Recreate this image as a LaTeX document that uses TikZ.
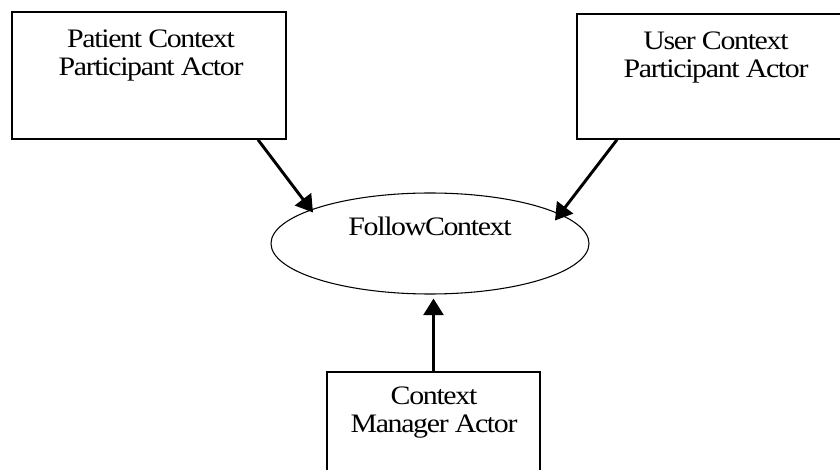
\documentclass[tikz,border=0pt]{standalone}
\usepackage{fontspec}
\setmainfont[FakeStretch=1.12,LetterSpace=-5]{Liberation Serif}
\usetikzlibrary{shapes.geometric,arrows.meta,calc}
\tikzset{
  lbl/.style={align=center, font=\fontsize{20}{21}\selectfont, inner sep=0pt},
  arr/.style={line width=2.2pt, -{Triangle[length=12.5pt,width=15pt]}},
}
\begin{document}
\begin{tikzpicture}[x=0.75pt,y=-0.75pt]
\useasboundingbox (0,0) rectangle (840,470);
% boxes
\node[draw, line width=1.1pt, minimum width=205.5pt, minimum height=95.25pt, inner sep=0pt] (lbox) at (149,75.5) {};
\node[draw, line width=1.1pt, minimum width=208.5pt, minimum height=93.75pt, inner sep=0pt] (rbox) at (716,76.5) {};
\node[draw, line width=1.1pt, minimum width=159.75pt, minimum height=97.5pt, inner sep=0pt] (bbox) at (433.5,437) {};
\node[draw, ellipse, line width=0.8pt, minimum width=238.5pt, minimum height=75.75pt, inner sep=0pt] (ell) at (430,243.5) {};
% texts
\node[lbl] (ltext) at (151,56) {Patient Context\\Participant Actor};
\node[lbl] (rtext) at (716,58) {User Context\\Participant Actor};
\node[lbl] (btext) at (434,413) {Context\\Manager Actor};
\node[lbl] (etext) at (430,226) {FollowContext};
% arrows
\draw[arr] ($(lbox.south)+(109,0)$) -- ($(ell.center)+(-117,-31)$);
\draw[arr] ($(rbox.south)+(-99,0)$) -- ($(ell.center)+(125,-23)$);
\draw[arr] (bbox.north) -- ($(bbox.north |- ell.south)+(0,4)$);
\end{tikzpicture}
\end{document}
